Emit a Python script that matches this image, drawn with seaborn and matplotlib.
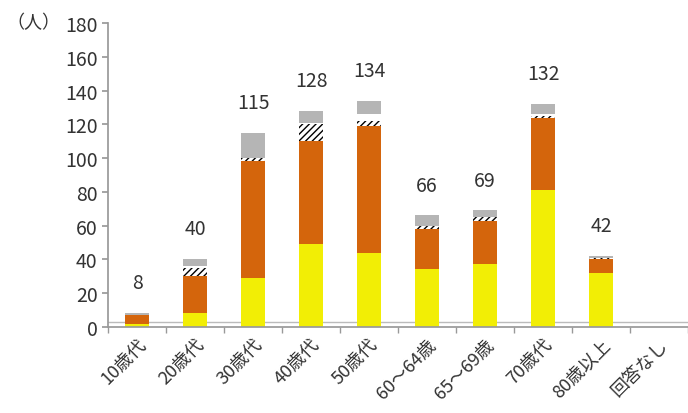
import numpy as np
import pandas as pd
import matplotlib
matplotlib.use("Agg")
import matplotlib.pyplot as plt
import seaborn as sns

# age groups
ages = ['10歳代', '20歳代', '30歳代', '40歳代', '50歳代',
        '60～64歳', '65～69歳', '70歳代', '80歳以上', '回答なし']
# stacked segments (persons)
seg_yellow = [2, 8, 29, 49, 44, 34, 37, 81, 32, 0]
seg_orange = [5, 22, 69, 61, 75, 24, 26, 43, 8, 0]
seg_hatch = [0, 5, 2, 10, 3, 2, 2, 1, 1, 0]
seg_white = [0, 1, 0, 1, 4, 0, 0, 1, 0, 0]
seg_gray = [1, 4, 15, 7, 8, 6, 4, 6, 1, 0]
totals = [8, 40, 115, 128, 134, 66, 69, 132, 42, 0]

sns.set_theme(style="white")
plt.rcParams['font.family'] = ['Noto Sans CJK JP', 'DejaVu Sans']

df = pd.DataFrame({'age': ages, 'yellow': seg_yellow, 'orange': seg_orange,
                   'hatch': seg_hatch, 'white': seg_white, 'gray': seg_gray})
layers = ['yellow', 'orange', 'hatch', 'white', 'gray']
cum = df[layers].cumsum(axis=1)

fig = plt.figure(figsize=(6.88, 4.14), dpi=100)
ax = fig.add_axes([0.157, 0.208, 0.843, 0.734])

styles = {
    'gray': dict(color='#b5b5b5', linewidth=0),
    'white': dict(color='white', linewidth=0),
    'hatch': dict(color='white', edgecolor='black', hatch='/////', linewidth=0),
    'orange': dict(color='#d4650c', linewidth=0),
    'yellow': dict(color='#f2ee05', linewidth=0),
}
# draw from top layer down so each cumulative bar covers the one above
for name in layers[::-1]:
    kw = styles[name]
    sns.barplot(x=df['age'], y=cum[name], order=ages, width=0.4, ax=ax,
                saturation=1, **kw)

for i, t in enumerate(totals):
    if t > 0:
        ax.text(i, t + 18, str(t), ha='center', va='center', fontsize=14,
                color='#333333')

ax.set_ylim(0, 180)
ax.set_xlim(-0.5, 9.5)
ax.set_yticks(range(0, 181, 20))
ax.tick_params(axis='y', labelsize=14, length=4, color='#999999',
               direction='out', left=True, labelcolor='#333333')
ax.set_xticks(range(len(ages)))
ax.set_xticklabels(ages, rotation=45, ha='right', rotation_mode='anchor',
                   fontsize=13, color='#333333')
ax.set_xticks(np.arange(-0.5, 10, 1), minor=True)
ax.tick_params(axis='x', which='major', length=0, pad=6)
ax.tick_params(axis='x', which='minor', length=4, color='#999999',
               bottom=True)
ax.set_xlabel('')
ax.set_ylabel('')
for s in ['top', 'right']:
    ax.spines[s].set_visible(False)
for s in ['left', 'bottom']:
    ax.spines[s].set_color('#999999')
ax.axhline(3, color='#bbbbbb', lw=1, zorder=0)

fig.text(0.01, 0.945, '（人）', fontsize=13, color='#333333', va='center')

fig.savefig('out.png', dpi=100)
